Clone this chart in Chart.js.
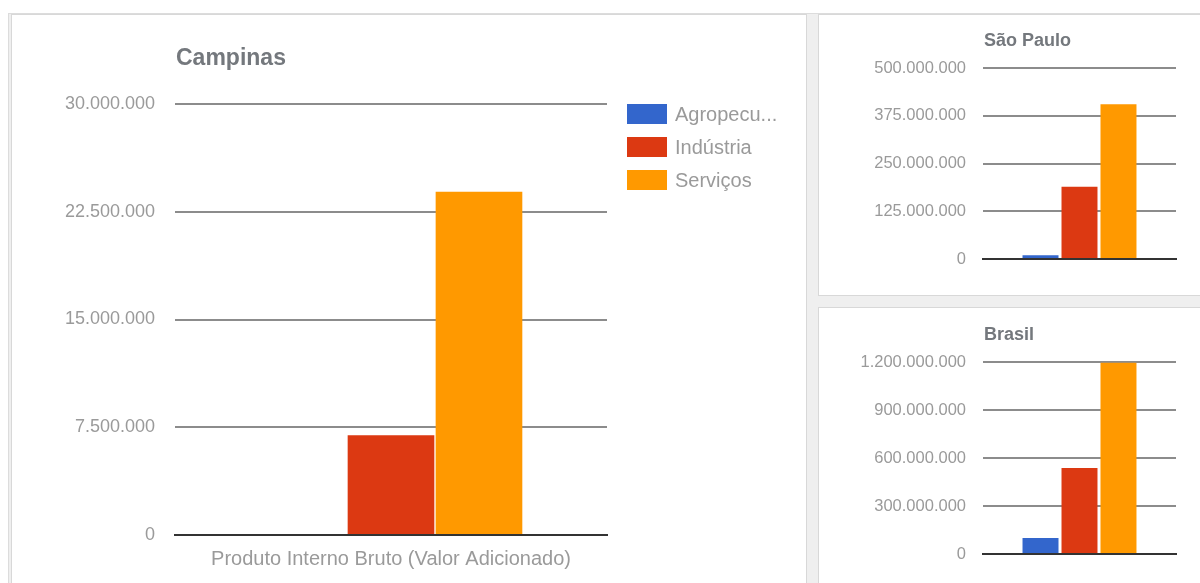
<!DOCTYPE html>
<html>
<head>
<meta charset="utf-8">
<script src="https://cdn.jsdelivr.net/npm/chart.js@4"></script>
<style>
  html, body { margin:0; padding:0; background:#fff; width:1200px; height:583px; overflow:hidden; font-family:"Liberation Sans", Arial, sans-serif; }
  #frame { position:absolute; left:8px; top:13px; width:1192px; height:570px; background:#efefef; border-top:1px solid #dcdcdc; border-left:1px solid #dcdcdc; box-sizing:border-box; }
  .panel { position:absolute; background:#fff; border:1px solid #d8d8d8; box-sizing:border-box; }
  canvas { position:absolute; }
  .leg { position:absolute; left:627px; height:20px; }
  .leg .sw { position:absolute; left:0; top:0; width:40px; height:20px; }
  .leg .tx { position:absolute; left:48px; top:-2px; font-size:20px; line-height:24px; color:#9a9a9a; white-space:nowrap; }
</style>
</head>
<body>
<div id="frame"></div>
<div class="panel" style="left:11px; top:14px; width:796px; height:600px;"></div>
<div class="panel" style="left:818px; top:14px; width:400px; height:282px;"></div>
<div class="panel" style="left:818px; top:307px; width:400px; height:300px;"></div>

<canvas id="cCampinas" width="806" height="583" style="left:0; top:0;"></canvas>
<canvas id="cSaoPaulo" width="381" height="281" style="left:819px; top:14px;"></canvas>
<canvas id="cBrasil" width="381" height="276" style="left:819px; top:307px;"></canvas>

<div id="legend"></div>

<script>
// ---- data ----
const categories = ['Produto Interno Bruto (Valor Adicionado)'];
const seriesNames = ['Agropecuária', 'Indústria', 'Serviços'];
const legendLabels = ['Agropecu...', 'Indústria', 'Serviços'];
const seriesColors = ['#3366cc', '#dc3912', '#ff9900'];

const campinasValues = [40000, 6940000, 23900000];
const saoPauloValues = [10000000, 189000000, 405000000];
const brasilValues = [100000000, 537000000, 1195000000];

const campinasTicks = [0, 7500000, 15000000, 22500000, 30000000];
const saoPauloTicks = [0, 125000000, 250000000, 375000000, 500000000];
const brasilTicks = [0, 300000000, 600000000, 900000000, 1200000000];

const titles = ['Campinas', 'São Paulo', 'Brasil'];

// ---- helpers ----
const FONT = '"Liberation Sans", Arial, sans-serif';
function fmt(v) {
  return Math.round(v).toString().replace(/\B(?=(\d{3})+(?!\d))/g, '.');
}

const panelTitlePlugin = {
  id: 'panelTitle',
  afterDraw(chart, args, opts) {
    if (!opts || !opts.text) return;
    const ctx = chart.ctx;
    ctx.save();
    ctx.font = 'bold ' + opts.size + 'px ' + FONT;
    ctx.fillStyle = '#74787d';
    ctx.textBaseline = 'middle';
    ctx.textAlign = 'left';
    ctx.fillText(opts.text, chart.chartArea.left + (opts.dx || 0), opts.y);
    ctx.restore();
  }
};

function makeChart(id, values, ticks, cfg) {
  const datasets = seriesNames.map((name, i) => ({
    label: name,
    data: [values[i]],
    backgroundColor: seriesColors[i],
    borderWidth: 0,
    categoryPercentage: cfg.catPct,
    barPercentage: cfg.barPct
  }));
  return new Chart(document.getElementById(id), {
    type: 'bar',
    data: { labels: categories, datasets },
    plugins: [panelTitlePlugin],
    options: {
      responsive: false,
      animation: false,
      devicePixelRatio: 1,
      layout: { padding: { top: cfg.top, right: cfg.right, bottom: 0, left: 0 } },
      plugins: {
        legend: { display: false },
        tooltip: { enabled: false },
        panelTitle: { text: cfg.title, y: cfg.titleY, size: cfg.titleSize, dx: 1 }
      },
      scales: {
        x: {
          display: true,
          grid: { display: false, drawTicks: false },
          border: { display: true, color: '#333333', width: 2, z: 1 },
          ticks: {
            display: cfg.showX,
            color: '#9a9a9a',
            padding: 12,
            font: { family: FONT, size: 20 }
          },
          afterFit: s => { s.height = cfg.bottom; }
        },
        y: {
          min: ticks[0],
          max: ticks[ticks.length - 1],
          afterBuildTicks: s => { s.ticks = ticks.map(v => ({ value: v })); },
          grid: { color: '#8c8c8c', lineWidth: 2, drawTicks: false },
          border: { display: false },
          ticks: {
            color: '#9a9a9a',
            padding: cfg.tickPad,
            font: { family: FONT, size: cfg.tickSize },
            callback: v => fmt(v)
          },
          afterFit: s => { s.width = cfg.left; }
        }
      }
    }
  });
}

makeChart('cCampinas', campinasValues, campinasTicks, {
  top: 104, right: 806 - 607, bottom: 583 - 535, left: 175,
  catPct: 0.611, barPct: 0.985, showX: true, tickPad: 20, tickSize: 18,
  title: titles[0], titleY: 59, titleSize: 23
});
makeChart('cSaoPaulo', saoPauloValues, saoPauloTicks, {
  top: 54, right: 1200 - 1176, bottom: 281 - 245, left: 164,
  catPct: 0.606, barPct: 0.923, showX: false, tickPad: 17, tickSize: 16.5,
  title: titles[1], titleY: 27, titleSize: 18
});
makeChart('cBrasil', brasilValues, brasilTicks, {
  top: 55, right: 1200 - 1176, bottom: 276 - 247, left: 164,
  catPct: 0.606, barPct: 0.923, showX: false, tickPad: 17, tickSize: 16.5,
  title: titles[2], titleY: 28, titleSize: 18
});

// ---- legend ----
const legendTops = [104, 137, 170];
const legend = document.getElementById('legend');
legendLabels.forEach((t, i) => {
  const d = document.createElement('div');
  d.className = 'leg';
  d.style.top = legendTops[i] + 'px';
  d.innerHTML = '<div class="sw" style="background:' + seriesColors[i] + '"></div><div class="tx"></div>';
  d.querySelector('.tx').textContent = t;
  legend.appendChild(d);
});
</script>
</body>
</html>
